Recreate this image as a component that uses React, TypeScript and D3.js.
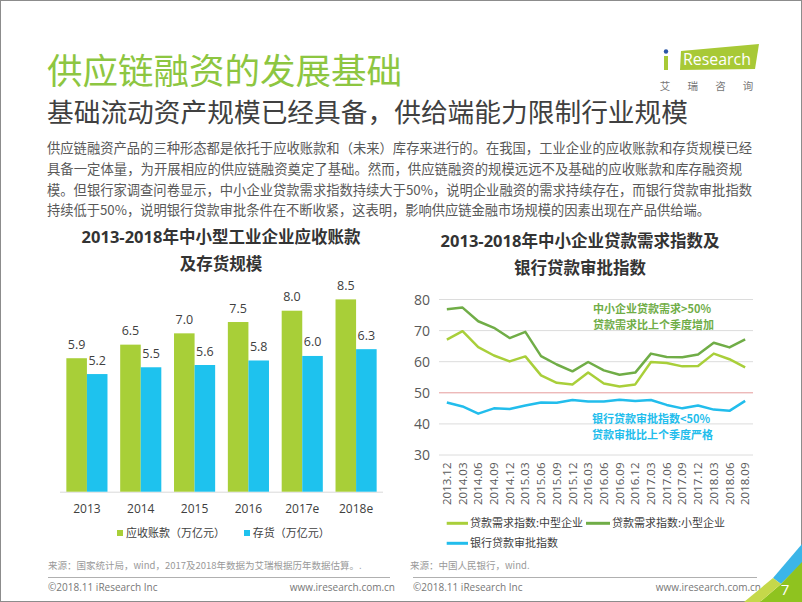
import React from 'react';
import * as d3 from 'd3';

const years = ['2013', '2014', '2015', '2016', '2017e', '2018e'];
const receivables = [5.9, 6.5, 7.0, 7.5, 8.0, 8.5];
const inventory = [5.2, 5.5, 5.6, 5.8, 6.0, 6.3];

const quarters = ['2013.12', '2014.03', '2014.06', '2014.09', '2014.12', '2015.03', '2015.06', '2015.09', '2015.12', '2016.03', '2016.06', '2016.09', '2016.12', '2017.03', '2017.06', '2017.09', '2017.12', '2018.03', '2018.06', '2018.09'];
const smallDemand = [76.9, 77.4, 73.0, 70.9, 67.6, 69.6, 61.8, 59.1, 56.9, 59.9, 57.2, 55.8, 56.5, 62.6, 61.5, 61.4, 62.3, 66.1, 64.6, 67.2];
const mediumDemand = [67.1, 69.8, 64.7, 62.0, 60.1, 61.7, 55.6, 53.2, 52.7, 56.5, 53.0, 52.0, 52.7, 59.9, 59.6, 58.5, 58.6, 62.6, 60.8, 58.2];
const bankApproval = [46.9, 45.6, 43.3, 45.0, 44.8, 45.9, 46.9, 46.8, 47.7, 47.2, 47.2, 47.8, 47.4, 47.7, 46.1, 45.0, 45.9, 44.6, 44.2, 47.4];
const yTicks = [30, 40, 50, 60, 70, 80];

const bodyLines = [
  '供应链融资产品的三种形态都是依托于应收账款和（未来）库存来进行的。在我国，工业企业的应收账款和存货规模已经',
  '具备一定体量，为开展相应的供应链融资奠定了基础。然而，供应链融资的规模远远不及基础的应收账款和库存融资规',
  '模。但银行家调查问卷显示，中小企业贷款需求指数持续大于50%，说明企业融资的需求持续存在，而银行贷款审批指数',
  '持续低于50%，说明银行贷款审批条件在不断收紧，这表明，影响供应链金融市场规模的因素出现在产品供给端。',
];
const bodyEnds = [752, 742, 752, 710];

const FONT = "'Open Sans', 'Noto Sans CJK SC', sans-serif";
const CJK = "'Noto Sans CJK SC', 'Open Sans', sans-serif";
const GREEN_BAR = '#a8cf38';
const BLUE_BAR = '#1ec2ee';
const DARK_GREEN = '#70ad47';
const LIGHT_GREEN = '#a9cf3a';
const BLUE_LINE = '#22bdec';

export default function App() {
  // Left bar chart
  const x0 = d3.scaleBand<string>().domain(years).range([60, 383]).paddingInner(0.236).paddingOuter(0.118);
  const x1 = d3.scaleBand<string>().domain(['r', 'i']).range([0, x0.bandwidth()]);
  const yL = d3.scaleLinear().domain([0, 8.5]).range([491.7, 299.4]);

  // Right line chart
  const xR = d3.scalePoint<string>().domain(quarters).range([439, 753]).padding(0.5);
  const yR = d3.scaleLinear().domain([30, 80]).range([455, 299.5]);
  const line = d3.line<number>().x((_, i) => xR(quarters[i]) as number).y(d => yR(d));

  return (
    <div style={{ position: 'fixed', left: 0, top: 0 }}>
      <svg width={802} height={602} style={{ display: 'block', background: '#fff' }}>
        <rect x={0.5} y={0.5} width={801} height={601} fill="#fff" stroke="#8c8c8c" />

        {/* Titles */}
        <text x={47} y={84} fontSize={35} fill="#8dc641" fontFamily={CJK} textLength={355} lengthAdjust="spacingAndGlyphs">供应链融资的发展基础</text>
        <text x={47} y={122} fontSize={26} fill="#404040" fontFamily={CJK} textLength={641} lengthAdjust="spacingAndGlyphs">基础流动资产规模已经具备，供给端能力限制行业规模</text>
        {bodyLines.map((t, i) => (
          <text key={i} x={47} y={153 + i * 20.8} fontSize={13.3} fill="#595959" fontFamily={CJK} textLength={bodyEnds[i] - 47} lengthAdjust="spacingAndGlyphs">{t}</text>
        ))}

        {/* Logo */}
        <polygon points="681,51 759,44 755,69 680,70" fill="#a8c936" />
        <rect x={664} y={56} width={4} height={14} fill="#a8c936" />
        <circle cx={666} cy={51.5} r={2.2} fill="#2a55a6" />
        <text x={683} y={65} fontSize={17} fill="#fff" fontFamily={FONT} textLength={68} lengthAdjust="spacingAndGlyphs">Research</text>
        {['艾', '瑞', '咨', '询'].map((c, i) => (
          <text key={c} x={665 + i * 27.7} y={89.5} fontSize={10.5} fill="#777" fontFamily={CJK} textAnchor="middle">{c}</text>
        ))}

        {/* Left chart title */}
        <text x={221} y={243} fontSize={16.5} fontWeight="bold" fill="#333" fontFamily={FONT} textAnchor="middle">2013-2018年中小型工业企业应收账款</text>
        <text x={221} y={269.5} fontSize={16.5} fontWeight="bold" fill="#333" fontFamily={FONT} textAnchor="middle">及存货规模</text>

        {/* Bars */}
        <line x1={60} x2={383} y1={492.2} y2={492.2} stroke="#d9d9d9" strokeWidth={1} />
        {years.map((yr, i) => {
          const gx = x0(yr) as number;
          const bw = x1.bandwidth();
          const rx = gx + (x1('r') as number);
          const ix = gx + (x1('i') as number);
          return (
            <g key={yr}>
              <rect x={rx} y={yL(receivables[i])} width={bw} height={yL(0) - yL(receivables[i])} fill={GREEN_BAR} />
              <rect x={ix} y={yL(inventory[i])} width={bw} height={yL(0) - yL(inventory[i])} fill={BLUE_BAR} />
              <text x={rx + bw / 2} y={yL(receivables[i]) - 9.5} fontSize={12.5} fill="#404040" fontFamily={FONT} textAnchor="middle">{receivables[i].toFixed(1)}</text>
              <text x={ix + bw / 2} y={yL(inventory[i]) - 9.5} fontSize={12.5} fill="#404040" fontFamily={FONT} textAnchor="middle">{inventory[i].toFixed(1)}</text>
              <text x={gx + x0.bandwidth() / 2} y={512.5} fontSize={12} fill="#404040" fontFamily={FONT} textAnchor="middle">{yr}</text>
            </g>
          );
        })}
        {/* Left legend */}
        <rect x={117} y={530} width={6} height={6} fill={GREEN_BAR} />
        <text x={126} y={537} fontSize={11} fill="#404040" fontFamily={CJK}>应收账款（万亿元）</text>
        <rect x={244} y={530} width={6} height={6} fill={BLUE_BAR} />
        <text x={252.7} y={537} fontSize={11} fill="#404040" fontFamily={CJK}>存货（万亿元）</text>

        {/* Right chart title */}
        <text x={580} y={246.5} fontSize={16.5} fontWeight="bold" fill="#333" fontFamily={FONT} textAnchor="middle">2013-2018年中小企业贷款需求指数及</text>
        <text x={580} y={273.5} fontSize={16.5} fontWeight="bold" fill="#333" fontFamily={FONT} textAnchor="middle">银行贷款审批指数</text>

        {/* Grid & y ticks */}
        {yTicks.map(t => (
          <g key={t}>
            <line x1={439} x2={753} y1={yR(t)} y2={yR(t)} stroke={t === 50 ? '#e59c9c' : '#dcdcdc'} strokeWidth={1} />
            <text x={430} y={yR(t) + 5} fontSize={14} fill="#595959" fontFamily={FONT} textAnchor="end">{t}</text>
          </g>
        ))}
        {/* x labels */}
        {quarters.map(q => (
          <text key={q} transform={`translate(${xR(q)},462.5) rotate(-90)`} dy="0.36em" fontSize={11.5} fill="#595959" fontFamily={FONT} textAnchor="end">{q}</text>
        ))}
        {/* Lines */}
        <path d={line(smallDemand) as string} fill="none" stroke={DARK_GREEN} strokeWidth={2.5} strokeLinejoin="round" />
        <path d={line(mediumDemand) as string} fill="none" stroke={LIGHT_GREEN} strokeWidth={2.5} strokeLinejoin="round" />
        <path d={line(bankApproval) as string} fill="none" stroke={BLUE_LINE} strokeWidth={2.5} strokeLinejoin="round" />

        {/* Annotations */}
        <text x={593} y={312.5} fontSize={11} fontWeight="bold" fill={DARK_GREEN} fontFamily={CJK}>中小企业贷款需求&gt;50%</text>
        <text x={593} y={328.5} fontSize={11} fontWeight="bold" fill={DARK_GREEN} fontFamily={CJK}>贷款需求比上个季度增加</text>
        <text x={592} y={422.5} fontSize={11} fontWeight="bold" fill={BLUE_LINE} fontFamily={CJK}>银行贷款审批指数&lt;50%</text>
        <text x={592} y={438.5} fontSize={11} fontWeight="bold" fill={BLUE_LINE} fontFamily={CJK}>贷款审批比上个季度严格</text>

        {/* Right legend */}
        <line x1={446.7} x2={468} y1={523.3} y2={523.3} stroke={LIGHT_GREEN} strokeWidth={3} />
        <text x={470} y={527.3} fontSize={11} fill="#404040" fontFamily={CJK}>贷款需求指数:中型企业</text>
        <line x1={586} x2={610} y1={523.3} y2={523.3} stroke={DARK_GREEN} strokeWidth={3} />
        <text x={612} y={527.3} fontSize={11} fill="#404040" fontFamily={CJK}>贷款需求指数:小型企业</text>
        <line x1={446.7} x2={468} y1={543.3} y2={543.3} stroke={BLUE_LINE} strokeWidth={3} />
        <text x={470} y={547.3} fontSize={11} fill="#404040" fontFamily={CJK}>银行贷款审批指数</text>

        {/* Sources */}
        <text x={48} y={569} fontSize={9.5} fill="#999" fontFamily={CJK}>来源：国家统计局，wind，2017及2018年数据为艾瑞根据历年数据估算。.</text>
        <text x={410} y={569} fontSize={9.5} fill="#999" fontFamily={CJK}>来源：中国人民银行，wind.</text>

        {/* Footer */}
        <line x1={48} x2={390} y1={577.5} y2={577.5} stroke="#b0b0b0" />
        <line x1={413} x2={757} y1={577.5} y2={577.5} stroke="#b0b0b0" />
        <text x={48} y={591} fontSize={10} fill="#777" fontFamily={FONT}>©2018.11 iResearch Inc</text>
        <text x={395} y={591} fontSize={10} fill="#777" fontFamily={FONT} textAnchor="end">www.iresearch.com.cn</text>
        <text x={413} y={591} fontSize={10} fill="#777" fontFamily={FONT}>©2018.11 iResearch Inc</text>
        <text x={761} y={591} fontSize={10} fill="#777" fontFamily={FONT} textAnchor="end">www.iresearch.com.cn</text>

        {/* Corner decoration */}
        <polygon points="802,544 802,563 781,584 773,578" fill="#3bb5e8" />
        <polygon points="802,562 802,602 760,602 781,584" fill="#8fc31f" />
        <polygon points="773,578 781,584 760,602 744,602" fill="#c5d84a" />
        <text x={785} y={595} fontSize={15} fill="#fff" fontFamily={FONT} textAnchor="middle">7</text>
      </svg>
    </div>
  );
}
